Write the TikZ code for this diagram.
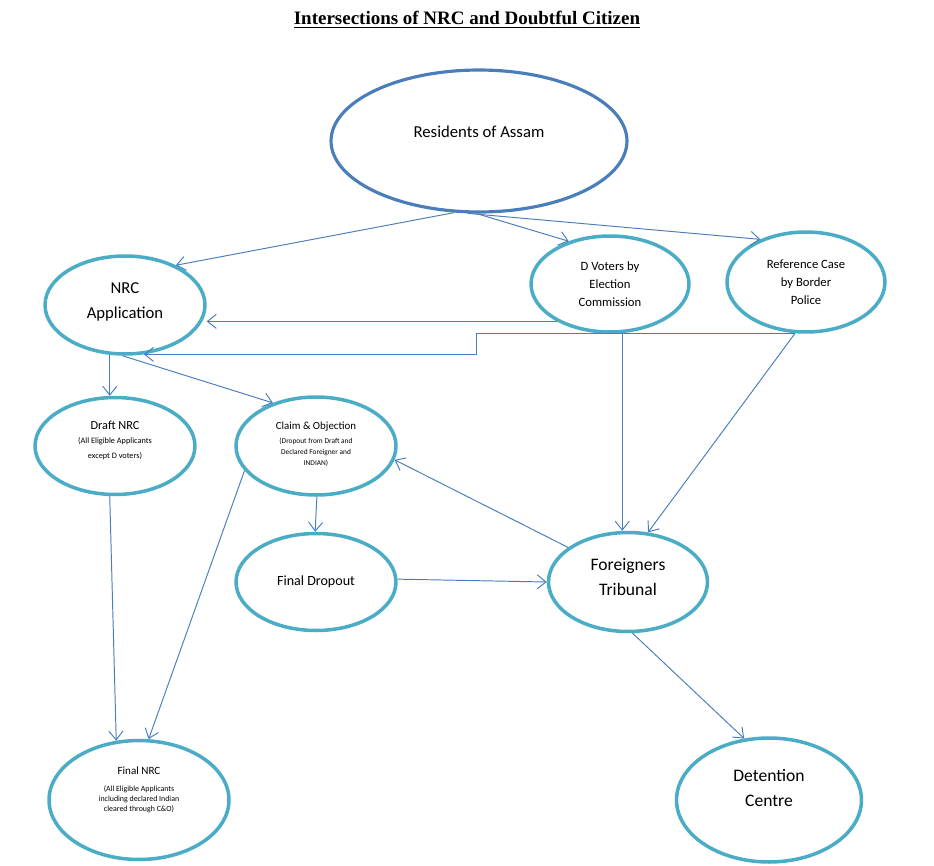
\documentclass[tikz,border=0pt]{standalone}
\usepackage{fontspec}
\setmainfont{Carlito}
\newfontfamily\titlefont{Liberation Serif}
\usetikzlibrary{arrows.meta}
\usetikzlibrary{shapes.geometric}
\definecolor{ringteal}{HTML}{4BACC6}
\definecolor{ringblue}{HTML}{4A7EBB}
\definecolor{wireblue}{HTML}{4A7EBB}

\begin{document}
\begin{tikzpicture}[x=0.02cm, y=-0.02cm,
    bubble/.style 2 args={ellipse, draw=ringteal, line width=2pt, minimum width=#1, minimum height=#2, inner sep=0pt},
    txt/.style={align=center, inner sep=0pt},
    arr/.style={draw=wireblue, line width=0.55pt, -{Straight Barb[length=5pt, width=8pt]}}]
    \useasboundingbox (0,0) rectangle (934,866);

    \node[font=\titlefont\bfseries\fontsize{10.8}{13}\selectfont] (title) at (467,20) {\underline{Intersections of NRC and Doubtful Citizen}};

    \node[bubble={5.92cm}{2.84cm}, draw=ringblue, line width=1.8pt, label={[txt, yshift=5.2pt, font=\fontsize{9.5}{12}\selectfont]center:Residents of Assam}] (res) at (479,141) {};
    \node[bubble={3.2cm}{1.96cm}, label={[txt, yshift=2pt, font=\fontsize{9.5}{14.2}\selectfont]center:{NRC\\Application}}] (nrc) at (125,305) {};
    \node[bubble={3.16cm}{1.92cm}, label={[txt, font=\fontsize{7.2}{10.2}\selectfont]center:{D Voters by\\Election\\Commission}}] (dv) at (610,284) {};
    \node[bubble={3.16cm}{2cm}, label={[txt, font=\fontsize{7.2}{10.2}\selectfont]center:{Reference Case\\by Border\\Police}}] (ref) at (806,282) {};

    \node[bubble={3.2cm}{1.94cm}, label={[txt, yshift=3.2pt, font=\fontsize{4.7}{8.4}\selectfont]center:{{\fontsize{7}{8}\selectfont Draft NRC}\\(All Eligible Applicants\\except D voters)}}] (draft) at (115,446) {};
    \node[bubble={3.2cm}{1.96cm}, label={[txt, yshift=1pt, font=\fontsize{4.2}{6.2}\selectfont]center:{{\fontsize{6.2}{8}\selectfont Claim \& Objection}\\[2pt](Dropout from Draft and\\Declared Foreigner and\\INDIAN)}}] (claim) at (316,446) {};
    \node[bubble={3.2cm}{1.94cm}, label={[txt, font=\fontsize{8}{10}\selectfont]center:Final Dropout}] (drop) at (316,582) {};
    \node[bubble={3.18cm}{1.98cm}, label={[txt, yshift=2.8pt, font=\fontsize{10}{14.2}\selectfont]center:{Foreigners\\Tribunal}}] (ft) at (628,582) {};

    \node[bubble={3.6cm}{2.38cm}, label={[txt, yshift=5.7pt, font=\fontsize{4.5}{5.7}\selectfont]center:{{\fontsize{6.3}{8}\selectfont Final NRC}\\[4pt](All Eligible Applicants\\including declared Indian\\cleared through C\&O)}}] (fnrc) at (139,800) {};
    \node[bubble={3.7cm}{2.48cm}, label={[txt, yshift=6.8pt, font=\fontsize{10}{14.7}\selectfont]center:{Detention\\Centre}}] (det) at (769,800) {};

    \draw[arr] (res.-109) -- (nrc.38);
    \draw[arr] (res.-92) -- (dv.134);
    \draw[arr] (res.-99) -- (ref.137);
    \draw[arr] (dv.215) -- (dv.215 -| nrc.east);
    \coordinate (jog) at (476,333);
    \draw[arr] (ref.-102) -| (jog |- nrc.-69) -- (nrc.-69);
    \draw[arr] (dv.-76) -- (dv.-76 |- ft.north);
    \draw[arr] (ref.-102) -- (ft.68);
    \draw[arr] (nrc.-107) -- (nrc.-107 |- draft.north);
    \draw[arr] (nrc.-93) -- (claim.135);
    \draw[arr] (draft.-96) -- (fnrc.111);
    \draw[arr] (claim.199) -- (fnrc.81);
    \draw[arr] (claim.-89) -- (drop.91);
    \draw[arr] (drop.2) -- (ft.180);
    \draw[arr] (ft.150) -- (claim.-10);
    \draw[arr] (ft.-85) -- (det.112);
\end{tikzpicture}
\end{document}
